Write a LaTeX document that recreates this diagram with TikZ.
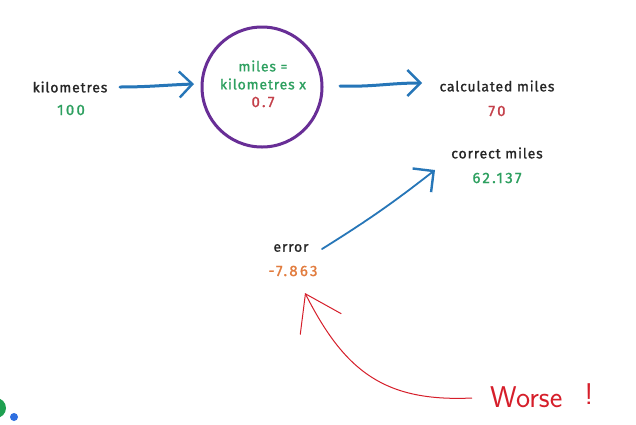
\documentclass[tikz,border=0pt]{standalone}
\usepackage{fontspec}
\setmainfont{Fira Sans}
\newfontfamily\hand{Fira Sans}[LetterSpace=6, FakeBold=1.2]
\newfontfamily\handnum{Fira Sans}[LetterSpace=15, FakeBold=1.2]
\newfontfamily\thinhand{Latin Modern Sans}
\usetikzlibrary{arrows.meta}
\definecolor{tgreen}{RGB}{46,160,96}
\definecolor{tred}{RGB}{196,64,74}
\definecolor{torange}{RGB}{226,124,62}
\definecolor{tblue}{RGB}{38,118,184}
\definecolor{tpurple}{RGB}{104,46,150}
\definecolor{ared}{RGB}{214,30,42}
\definecolor{lgreen}{RGB}{30,160,80}
\definecolor{lblue}{RGB}{47,111,224}
\tikzset{
  lbl/.style={font=\hand\fontsize{14}{16}\selectfont, text=black!85, inner sep=1pt},
  ftxt/.style={font=\hand\fontsize{14}{16}\selectfont, inner sep=1pt},
  val/.style={font=\handnum\fontsize{15}{16}\selectfont, inner sep=1pt},
  bluearrow/.style={draw=tblue, line width=3pt, line cap=round,
     -{Straight Barb[length=13pt,width=26pt,line width=2.4pt]}},
  thinblue/.style={draw=tblue, line width=1.8pt, line cap=round,
     -{Straight Barb[length=15pt,width=30pt,line width=2.4pt]}},
  redarrow/.style={draw=ared, line width=1pt,
     -{Straight Barb[length=34pt,width=46pt,line width=1pt]}}
}
\begin{document}
\begin{tikzpicture}[x=1pt,y=-1pt]
\useasboundingbox[fill=white] (0,0) rectangle (636,424);
% inputs
\node[lbl] (km) at (70,87) {kilometres};
\node[val, text=tgreen] (kmv) at (71,110) {100};
% circle
\node[circle, draw=tpurple, line width=3pt, minimum size=120pt, inner sep=0pt] (circ) at (262,87) {};
\node[ftxt, text=tgreen] (f1) at (263,66) {miles =};
\node[ftxt, text=tgreen] (f2) at (263,84) {kilometres x};
\node[val, text=tred] (f3) at (263,102) {0.7};
% outputs
\node[lbl] (calc) at (497,86) {calculated miles};
\node[val, text=tred] (calcv) at (497,111) {70};
\node[lbl] (corr) at (497,153) {correct miles};
\node[val, text=tgreen] (corrv) at (497,178) {62.137};
\node[lbl] (err) at (291,248) {error};
\node[val, text=torange] (errv) at (293,271) {-7.863};
\node[font=\thinhand\fontsize{30}{32}\selectfont, text=ared, inner sep=0pt, anchor=west] (worse) at (490,396) {Worse\hspace{22pt}\raisebox{3pt}{!}};
% connectors
\coordinate (a1s) at (120,87);
\coordinate (a1e) at (194,84);
\draw[bluearrow] (a1s) to[out=0,in=182] (a1e);
\coordinate (a2s) at (340,86);
\coordinate (a2e) at (422,83);
\draw[bluearrow] (a2s) to[out=-2,in=180] (a2e);
\coordinate (a3s) at (322,249);
\coordinate (a3e) at (435,170);
\draw[thinblue] (a3s) to[out=32,in=218] (a3e);
\coordinate (a4s) at (472,398);
\coordinate (a4e) at (305,293);
\draw[redarrow] (a4s) .. controls (385,402) and (345,372) .. (a4e);
% logo fragment
\fill[lgreen] (-4,408) circle (10pt);
\fill[lblue] (14,417) circle (4pt);
\end{tikzpicture}
\end{document}
